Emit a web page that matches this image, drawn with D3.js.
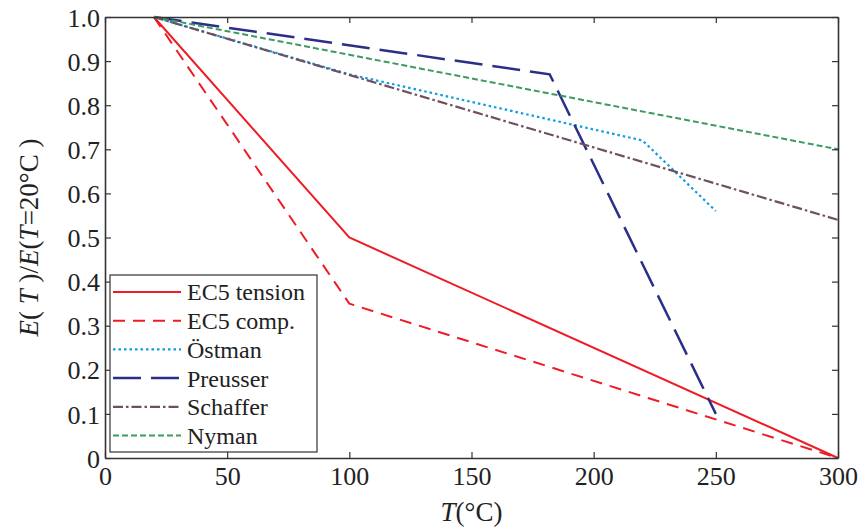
<!DOCTYPE html>
<html>
<head>
<meta charset="utf-8">
<script src="https://cdn.jsdelivr.net/npm/d3@7"></script>
<style>
  body { margin: 0; background: #fff; }
  svg { display: block; }
</style>
</head>
<body>
<div id="chart"></div>
<script>
// Data
var seriesNames = ["EC5 tension", "EC5 comp.", "Östman", "Preusser", "Schaffer", "Nyman"];
var ec5Tension = [[20, 1.0], [100, 0.5], [300, 0.0]];
var ec5Comp = [[20, 1.0], [100, 0.35], [300, 0.0]];
var ostman = [[20, 1.0], [100, 0.87], [220, 0.72], [250, 0.56]];
var preusser = [[20, 1.0], [182, 0.87], [250, 0.10]];
var schaffer = [[20, 1.0], [300, 0.54]];
var nyman = [[20, 1.0], [300, 0.70]];
var xTicks = [0, 50, 100, 150, 200, 250, 300];
var yTicks = [0, 0.1, 0.2, 0.3, 0.4, 0.5, 0.6, 0.7, 0.8, 0.9, 1.0];
var yTickLabels = ["0", "0.1", "0.2", "0.3", "0.4", "0.5", "0.6", "0.7", "0.8", "0.9", "1.0"];

var styles = [
    { color: "#ee1c25", dash: null, width: 2 },
    { color: "#ee1c25", dash: "12,8", width: 2 },
    { color: "#0a9ee0", dash: "2.5,3", width: 2.2 },
    { color: "#2b2f86", dash: "28,10", width: 2.5 },
    { color: "#6f4f61", dash: "10,3,2.5,3", width: 2.2 },
    { color: "#3c9a62", dash: "6,3", width: 2 }
];
var allSeries = [ec5Tension, ec5Comp, ostman, preusser, schaffer, nyman];

var serif = "Liberation Serif, Times New Roman, Tinos, DejaVu Serif, Noto Serif, serif";

var width = 868, height = 529;
var margin = { top: 17, right: 30, bottom: 71, left: 105 };
var w = width - margin.left - margin.right;
var h = height - margin.top - margin.bottom;

var svg = d3.select("#chart").append("svg")
    .attr("width", width)
    .attr("height", height)
    .attr("font-family", serif);

var g = svg.append("g")
    .attr("transform", `translate(${margin.left},${margin.top})`);

var x = d3.scaleLinear().domain([0, 300]).range([0, w]);
var y = d3.scaleLinear().domain([0, 1]).range([h, 0]);

// Lines
var line = d3.line().x(d => x(d[0])).y(d => y(d[1]));
allSeries.forEach(function(data, i) {
    g.append("path")
        .datum(data)
        .attr("fill", "none")
        .attr("stroke", styles[i].color)
        .attr("stroke-width", styles[i].width)
        .attr("stroke-dasharray", styles[i].dash)
        .attr("d", line);
});

// Axes with inward ticks on all four sides
var tickLen = 6;
var xAxis = g.append("g")
    .attr("transform", `translate(0,${h})`)
    .call(d3.axisBottom(x).tickValues(xTicks).tickSizeInner(-tickLen).tickSizeOuter(0).tickPadding(9));
var yAxis = g.append("g")
    .call(d3.axisLeft(y).tickValues(yTicks).tickFormat((d, i) => yTickLabels[i])
        .tickSizeInner(-tickLen).tickSizeOuter(0).tickPadding(5));
var xTop = g.append("g")
    .call(d3.axisTop(x).tickValues(xTicks).tickSizeInner(-tickLen).tickSizeOuter(0).tickFormat(""));
var yRight = g.append("g")
    .attr("transform", `translate(${w},0)`)
    .call(d3.axisRight(y).tickValues(yTicks).tickSizeInner(-tickLen).tickSizeOuter(0).tickFormat(""));

[xAxis, yAxis, xTop, yRight].forEach(function(a) {
    a.attr("font-family", serif).attr("font-size", 26);
    a.select(".domain").attr("stroke", "#333").attr("stroke-width", 1.6);
    a.selectAll(".tick line").attr("stroke", "#333").attr("stroke-width", 1.2);
    a.selectAll("text").attr("fill", "#222");
});
yAxis.selectAll("text").attr("dy", "0.35em");

// Axis titles
var xTitle = svg.append("text")
    .attr("x", margin.left + w / 2)
    .attr("y", 521)
    .attr("text-anchor", "middle")
    .attr("font-size", 27)
    .attr("fill", "#222");
xTitle.append("tspan").attr("font-style", "italic").text("T");
xTitle.append("tspan").text("(°C)");

var yTitle = svg.append("text")
    .attr("transform", `translate(38,${margin.top + h / 2}) rotate(-90)`)
    .attr("text-anchor", "middle")
    .attr("font-size", 27)
    .attr("fill", "#222");
yTitle.append("tspan").attr("font-style", "italic").text("E");
yTitle.append("tspan").text("( ");
yTitle.append("tspan").attr("font-style", "italic").text("T");
yTitle.append("tspan").text(" )/");
yTitle.append("tspan").attr("font-style", "italic").text("E");
yTitle.append("tspan").text("(");
yTitle.append("tspan").attr("font-style", "italic").text("T");
yTitle.append("tspan").text("=20°C )");

// Legend
var legX = 5, legY = 258, legW = 207, legH = 177, rowH = 28.7;
var legend = g.append("g").attr("transform", `translate(${legX},${legY})`);
legend.append("rect")
    .attr("width", legW)
    .attr("height", legH)
    .attr("fill", "#fff")
    .attr("stroke", "#333")
    .attr("stroke-width", 1.2);
seriesNames.forEach(function(name, i) {
    var cy = 17 + i * rowH;
    legend.append("line")
        .attr("x1", 3).attr("x2", 71)
        .attr("y1", cy).attr("y2", cy)
        .attr("stroke", styles[i].color)
        .attr("stroke-width", styles[i].width)
        .attr("stroke-dasharray", styles[i].dash);
    legend.append("text")
        .attr("x", 77)
        .attr("y", cy)
        .attr("dy", "0.35em")
        .attr("font-size", 24)
        .attr("fill", "#222")
        .text(name);
});
</script>
</body>
</html>
